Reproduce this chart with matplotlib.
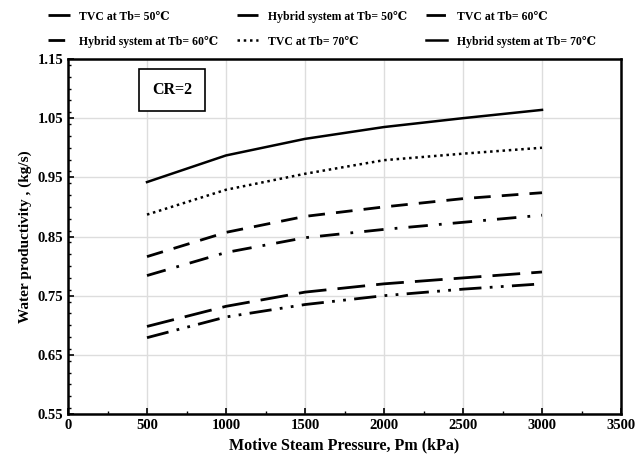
import matplotlib
matplotlib.use("Agg")
import matplotlib.pyplot as plt
from matplotlib.ticker import MultipleLocator

plt.rcParams['font.family'] = ['Liberation Serif', 'DejaVu Serif']
plt.rcParams['font.weight'] = 'bold'

pm = [500, 1000, 1500, 2000, 2500, 3000]
tvc_50 = [0.679, 0.714, 0.735, 0.750, 0.761, 0.770]
hyb_50 = [0.698, 0.732, 0.756, 0.770, 0.780, 0.790]
tvc_60 = [0.784, 0.823, 0.848, 0.862, 0.874, 0.886]
hyb_60 = [0.816, 0.857, 0.884, 0.900, 0.914, 0.924]
tvc_70 = [0.887, 0.929, 0.956, 0.979, 0.990, 1.000]
hyb_70 = [0.942, 0.987, 1.015, 1.035, 1.050, 1.064]

fig = plt.figure(figsize=(6.44, 4.58), dpi=100)
ax = fig.add_axes([68/644, 44/458, 553/644, 355/458])

ax.plot(pm, tvc_50, color='black', lw=2, dashes=(8, 3, 1, 3, 1, 3), label='TVC at Tb= 50\u2103')
ax.plot(pm, hyb_50, color='black', lw=2, dashes=(10, 4), label='Hybrid system at Tb= 50\u2103')
ax.plot(pm, tvc_60, color='black', lw=2, dashes=(7, 4, 1, 4), label='TVC at Tb= 60\u2103')
ax.plot(pm, hyb_60, color='black', lw=2, dashes=(6, 4), label='Hybrid system at Tb= 60\u2103')
ax.plot(pm, tvc_70, color='black', lw=1.8, dashes=(1, 1.5), label='TVC at Tb= 70\u2103')
ax.plot(pm, hyb_70, color='black', lw=1.8, label='Hybrid system at Tb= 70\u2103')

ax.set_xlim(0, 3500)
ax.set_ylim(0.55, 1.15)
ax.xaxis.set_major_locator(MultipleLocator(500))
ax.xaxis.set_minor_locator(MultipleLocator(250))
ax.set_yticks([0.55, 0.65, 0.75, 0.85, 0.95, 1.05, 1.15])
ax.yaxis.set_minor_locator(MultipleLocator(0.02))
ax.grid(True, which='major', color='#dddddd', lw=1)
ax.tick_params(which='both', direction='in', labelsize=10.5)
ax.tick_params(which='major', length=4, width=1.2)
ax.tick_params(which='minor', length=2.5, width=1)
for s in ax.spines.values():
    s.set_linewidth(1.8)
for lab in ax.get_xticklabels() + ax.get_yticklabels():
    lab.set_fontweight('bold')

ax.set_xlabel('Motive Steam Pressure, Pm (kPa)', fontsize=11.5, fontweight='bold')
ax.set_ylabel('Water productivity , (kg/s)', fontsize=11, fontweight='bold')

ax.text(0.188, 0.913, 'CR=2', transform=ax.transAxes, fontsize=11.5, fontweight='bold',
        ha='center', va='center',
        bbox=dict(boxstyle='square,pad=0.8', fc='white', ec='black', lw=1.2))

handles, labels = ax.get_legend_handles_labels()
order = [0, 3, 1, 4, 2, 5]
fig.legend([handles[i] for i in order], [labels[i] for i in order],
           loc='upper center', bbox_to_anchor=(0.5, 1.0), ncol=3, frameon=False,
           handlelength=1.8, columnspacing=1.6, handletextpad=0.8,
           labelspacing=1.1, prop={'weight': 'bold', 'size': 8.5})

fig.savefig('out.png', dpi=100)
